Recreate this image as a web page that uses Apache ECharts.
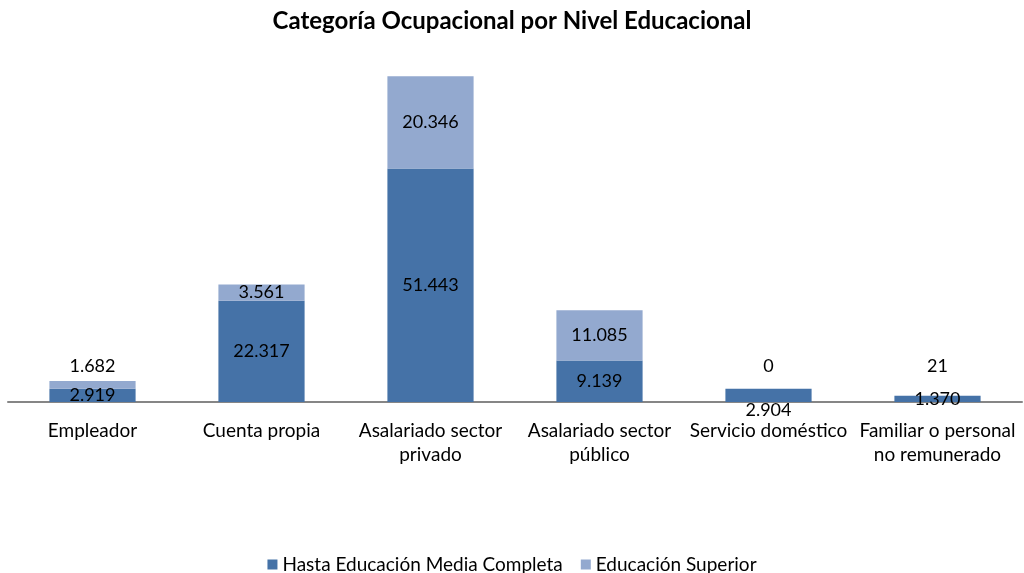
<!DOCTYPE html>
<html><head><meta charset="utf-8">
<script src="https://cdn.jsdelivr.net/npm/echarts@6/dist/echarts.min.js"></script>
<style>html,body{margin:0;padding:0;background:#fff}#c{width:1024px;height:573px}</style>
</head><body><div id="c"></div>
<script>
const categories = ['Empleador','Cuenta propia','Asalariado sector\nprivado','Asalariado sector\npúblico','Servicio doméstico','Familiar o personal\nno remunerado'];
const hastaMedia = [2919, 22317, 51443, 9139, 2904, 1370];
const superior = [1682, 3561, 20346, 11085, 0, 21];
const seriesNames = ['Hasta Educación Media Completa','Educación Superior'];

const FONT = 'Lato';
const fmt = v => String(v).replace(/\B(?=(\d{3})+(?!\d))/g, '.');
// label placement overrides (by category index)
const darkLabelPos = {4: {position:'bottom', distance:-1}};
const lightLabelPos = {0: {position:'top', distance:6}, 4: {position:'top', distance:14}, 5: {position:'top', distance:21}};

const mk = (vals, over) => vals.map((v,i) => over[i] ? {value:v, label:over[i]} : v);

const chart = echarts.init(document.getElementById('c'), null, {renderer:'canvas'});
chart.setOption({
  animation:false,
  title:{text:'Categoría Ocupacional por Nivel Educacional', left:'center', top:4,
    textStyle:{fontFamily:FONT, fontWeight:'bold', fontSize:24, color:'#000'}},
  legend:{bottom:-6, left:'center', itemWidth:10, itemHeight:10, itemGap:18, icon:'rect',
    textStyle:{fontFamily:FONT, fontSize:19, color:'#000'}},
  grid:{left:8, right:2, top:39, bottom:171, containLabel:false},
  xAxis:{type:'category', data:categories,
    axisLine:{lineStyle:{color:'#868686', width:2}}, axisTick:{show:false},
    axisLabel:{fontFamily:FONT, fontSize:19, color:'#000', interval:0, lineHeight:24, margin:17}},
  yAxis:{type:'value', min:0, max:80000, show:false, splitLine:{show:false}},
  series:[
    {name:seriesNames[0], type:'bar', stack:'a', barWidth:'51%', data:mk(hastaMedia, darkLabelPos),
      itemStyle:{color:'#4572A7'},
      label:{show:true, position:'inside', fontFamily:FONT, fontSize:18, color:'#000', formatter:p=>fmt(p.value)}},
    {name:seriesNames[1], type:'bar', stack:'a', barWidth:'51%', data:mk(superior, lightLabelPos),
      itemStyle:{color:'#93A9CF'},
      label:{show:true, position:'inside', fontFamily:FONT, fontSize:18, color:'#000', formatter:p=>fmt(p.value)}}
  ]
});
</script></body></html>
